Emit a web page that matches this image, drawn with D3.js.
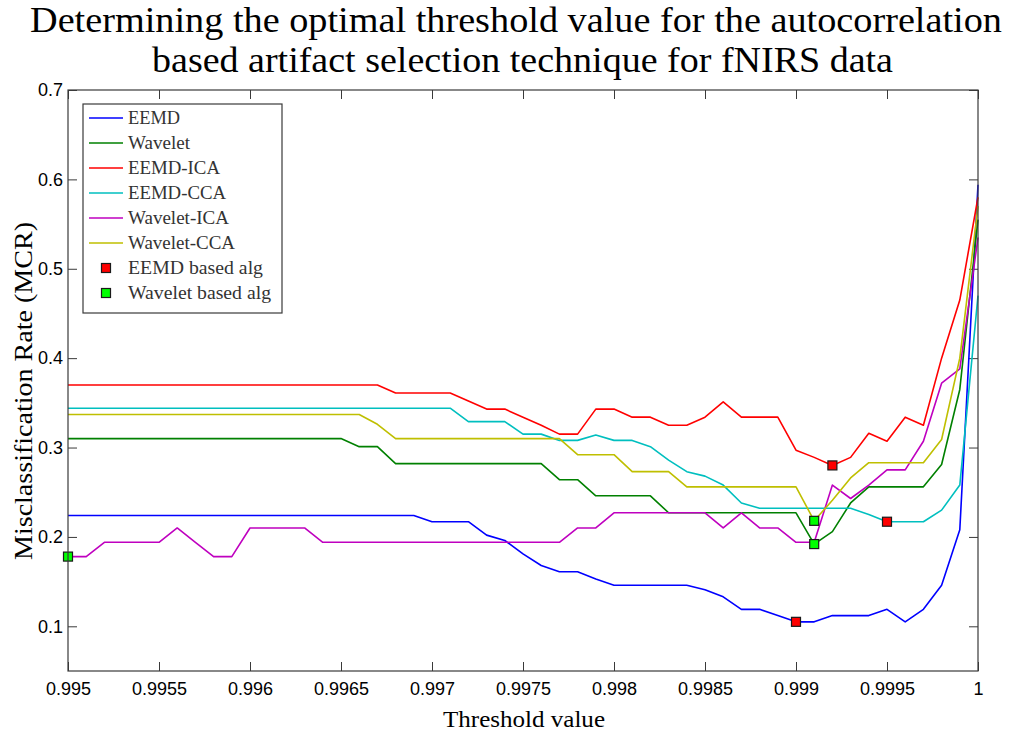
<!DOCTYPE html>
<html>
<head>
<meta charset="utf-8">
<script src="https://cdn.jsdelivr.net/npm/d3@7"></script>
<style>
  html, body { margin: 0; padding: 0; background: #fff; }
  svg { display: block; }
</style>
</head>
<body>
<svg id="chart" width="1010" height="736"></svg>
<script>
// Autocorrelation threshold values (x axis)
const thresholds = [
  0.9950, 0.9951, 0.9952, 0.9953, 0.9954, 0.9955, 0.9956, 0.9957, 0.9958, 0.9959,
  0.9960, 0.9961, 0.9962, 0.9963, 0.9964, 0.9965, 0.9966, 0.9967, 0.9968, 0.9969,
  0.9970, 0.9971, 0.9972, 0.9973, 0.9974, 0.9975, 0.9976, 0.9977, 0.9978, 0.9979,
  0.9980, 0.9981, 0.9982, 0.9983, 0.9984, 0.9985, 0.9986, 0.9987, 0.9988, 0.9989,
  0.9990, 0.9991, 0.9992, 0.9993, 0.9994, 0.9995, 0.9996, 0.9997, 0.9998, 0.9999,
  1.0000
];

// Misclassification rate per method
const eemd = [
  0.224, 0.224, 0.224, 0.224, 0.224, 0.224, 0.224, 0.224, 0.224, 0.224,
  0.224, 0.224, 0.224, 0.224, 0.224, 0.224, 0.224, 0.224, 0.224, 0.224,
  0.217, 0.217, 0.217, 0.202, 0.196, 0.181, 0.168, 0.161, 0.161, 0.153,
  0.146, 0.146, 0.146, 0.146, 0.146, 0.141, 0.133, 0.119, 0.119, 0.112,
  0.105, 0.105, 0.112, 0.112, 0.112, 0.119, 0.105, 0.119, 0.146, 0.208,
  0.594
];
const wavelet = [
  0.310, 0.310, 0.310, 0.310, 0.310, 0.310, 0.310, 0.310, 0.310, 0.310,
  0.310, 0.310, 0.310, 0.310, 0.310, 0.310, 0.301, 0.301, 0.282, 0.282,
  0.282, 0.282, 0.282, 0.282, 0.282, 0.282, 0.282, 0.264, 0.264, 0.246,
  0.246, 0.246, 0.246, 0.227, 0.227, 0.227, 0.227, 0.227, 0.227, 0.227,
  0.227, 0.192, 0.206, 0.238, 0.256, 0.256, 0.256, 0.256, 0.281, 0.365,
  0.555
];
const eemdIca = [
  0.370, 0.370, 0.370, 0.370, 0.370, 0.370, 0.370, 0.370, 0.370, 0.370,
  0.370, 0.370, 0.370, 0.370, 0.370, 0.370, 0.370, 0.370, 0.361, 0.361,
  0.361, 0.361, 0.352, 0.343, 0.343, 0.334, 0.325, 0.315, 0.315, 0.343,
  0.343, 0.334, 0.334, 0.325, 0.325, 0.334, 0.351, 0.334, 0.334, 0.334,
  0.297, 0.289, 0.280, 0.289, 0.316, 0.307, 0.334, 0.325, 0.400, 0.465,
  0.580
];
const eemdCca = [
  0.344, 0.344, 0.344, 0.344, 0.344, 0.344, 0.344, 0.344, 0.344, 0.344,
  0.344, 0.344, 0.344, 0.344, 0.344, 0.344, 0.344, 0.344, 0.344, 0.344,
  0.344, 0.344, 0.329, 0.329, 0.329, 0.315, 0.315, 0.308, 0.308, 0.314,
  0.308, 0.308, 0.301, 0.286, 0.273, 0.268, 0.258, 0.238, 0.232, 0.232,
  0.232, 0.232, 0.232, 0.232, 0.225, 0.217, 0.217, 0.217, 0.230, 0.258,
  0.470
];
const waveletIca = [
  0.178, 0.178, 0.194, 0.194, 0.194, 0.194, 0.210, 0.194, 0.178, 0.178,
  0.210, 0.210, 0.210, 0.210, 0.194, 0.194, 0.194, 0.194, 0.194, 0.194,
  0.194, 0.194, 0.194, 0.194, 0.194, 0.194, 0.194, 0.194, 0.210, 0.210,
  0.227, 0.227, 0.227, 0.227, 0.227, 0.227, 0.210, 0.227, 0.210, 0.210,
  0.194, 0.194, 0.258, 0.243, 0.258, 0.275, 0.275, 0.307, 0.372, 0.388,
  0.535
];
const waveletCca = [
  0.337, 0.337, 0.337, 0.337, 0.337, 0.337, 0.337, 0.337, 0.337, 0.337,
  0.337, 0.337, 0.337, 0.337, 0.337, 0.337, 0.337, 0.326, 0.310, 0.310,
  0.310, 0.310, 0.310, 0.310, 0.310, 0.310, 0.310, 0.310, 0.292, 0.292,
  0.292, 0.273, 0.273, 0.273, 0.256, 0.256, 0.256, 0.256, 0.256, 0.256,
  0.256, 0.218, 0.241, 0.266, 0.283, 0.283, 0.283, 0.283, 0.309, 0.400,
  0.570
];

// Series definitions: name, values, stroke colour
const seriesNames  = ["EEMD", "Wavelet", "EEMD-ICA", "EEMD-CCA", "Wavelet-ICA", "Wavelet-CCA"];
const seriesValues = [eemd, wavelet, eemdIca, eemdCca, waveletIca, waveletCca];
const seriesColors = ["#0000ff", "#008000", "#ff0000", "#00bfbf", "#bf00bf", "#bfbf00"];

// Optimal threshold for each method (minimum MCR)
const eemdBestX   = [0.9990, 0.9992, 0.9995];
const eemdBestY   = [0.105, 0.280, 0.217];
const waveBestX   = [0.9950, 0.9991, 0.9991];
const waveBestY   = [0.178, 0.192, 0.218];
const markerNames = ["EEMD based alg", "Wavelet based alg"];
const markerFills = ["#ff0000", "#00ff00"];

// Axis ticks
const xTickValues = [0.995, 0.9955, 0.996, 0.9965, 0.997, 0.9975, 0.998, 0.9985, 0.999, 0.9995, 1];
const xTickLabels = ["0.995", "0.9955", "0.996", "0.9965", "0.997", "0.9975", "0.998", "0.9985", "0.999", "0.9995", "1"];
const yTickValues = [0.1, 0.2, 0.3, 0.4, 0.5, 0.6, 0.7];
const yTickLabels = ["0.1", "0.2", "0.3", "0.4", "0.5", "0.6", "0.7"];

const titleLines = [
  "Determining the optimal threshold value for the autocorrelation",
  "based artifact selection technique for fNIRS data"
];
const xLabel = "Threshold value";
const yLabel = "Misclassification Rate (MCR)";

// ---- layout ----
const svg = d3.select("#chart");
const plot = { left: 68, right: 978, top: 90, bottom: 671 };
const serif = "'Liberation Serif', 'Times New Roman', serif";
const sans = "'Liberation Sans', Arial, Helvetica, sans-serif";
const axisColor = "#3a3a3a";

const x = d3.scaleLinear().domain([0.995, 1]).range([plot.left, plot.right]);
const y = d3.scaleLinear().domain([0.05, 0.7]).range([plot.bottom, plot.top]);

// Title (two centred lines, fitted to fixed widths)
const titleSpec = [
  { x0: 30, width: 972, baseline: 32 },
  { x0: 152, width: 741, baseline: 72 }
];
titleLines.forEach((line, i) => {
  svg.append("text")
    .attr("x", titleSpec[i].x0)
    .attr("y", titleSpec[i].baseline)
    .attr("font-family", serif)
    .attr("font-size", 35)
    .attr("fill", "#000")
    .attr("textLength", titleSpec[i].width)
    .attr("lengthAdjust", "spacingAndGlyphs")
    .text(line);
});

// Axes with inward ticks on all four sides
const tickLen = 9;
const fmtX = (d) => xTickLabels[xTickValues.indexOf(d)];
const fmtY = (d) => yTickLabels[yTickValues.indexOf(d)];

const gx = svg.append("g").attr("transform", `translate(0,${plot.bottom})`)
  .call(d3.axisBottom(x).tickValues(xTickValues).tickFormat(fmtX)
    .tickSizeInner(-tickLen).tickSizeOuter(0).tickPadding(11));
const gxTop = svg.append("g").attr("transform", `translate(0,${plot.top})`)
  .call(d3.axisTop(x).tickValues(xTickValues).tickFormat("")
    .tickSizeInner(-tickLen).tickSizeOuter(0));
const gy = svg.append("g").attr("transform", `translate(${plot.left},0)`)
  .call(d3.axisLeft(y).tickValues(yTickValues).tickFormat(fmtY)
    .tickSizeInner(-tickLen).tickSizeOuter(0).tickPadding(5));
const gyRight = svg.append("g").attr("transform", `translate(${plot.right},0)`)
  .call(d3.axisRight(y).tickValues(yTickValues).tickFormat("")
    .tickSizeInner(-tickLen).tickSizeOuter(0));

[gx, gxTop, gy, gyRight].forEach((g) => {
  g.select(".domain").remove();
  g.selectAll(".tick line").attr("stroke", axisColor).attr("stroke-width", 1);
  g.selectAll(".tick text")
    .attr("font-family", sans)
    .attr("font-size", 18)
    .attr("fill", "#000");
});

// Lines
const line = d3.line()
  .x((d, i) => x(thresholds[i]))
  .y((d) => y(d));

const linesG = svg.append("g");
seriesValues.forEach((vals, k) => {
  linesG.append("path")
    .datum(vals)
    .attr("d", line)
    .attr("fill", "none")
    .attr("stroke", seriesColors[k])
    .attr("stroke-width", 1.6)
    .attr("stroke-linejoin", "round");
});

// Optimal-threshold markers
const msize = 9;
function drawMarkers(xs, ys, fill) {
  svg.append("g").selectAll("rect")
    .data(xs.map((v, i) => [v, ys[i]]))
    .join("rect")
    .attr("x", (d) => x(d[0]) - msize / 2)
    .attr("y", (d) => y(d[1]) - msize / 2)
    .attr("width", msize)
    .attr("height", msize)
    .attr("fill", fill)
    .attr("stroke", "#1a1a1a")
    .attr("stroke-width", 1.2);
}
drawMarkers(eemdBestX, eemdBestY, markerFills[0]);
drawMarkers(waveBestX, waveBestY, markerFills[1]);

// Plot box
svg.append("rect")
  .attr("x", plot.left).attr("y", plot.top)
  .attr("width", plot.right - plot.left).attr("height", plot.bottom - plot.top)
  .attr("fill", "none").attr("stroke", axisColor).attr("stroke-width", 1.2);

// Axis labels
svg.append("text")
  .attr("x", 443)
  .attr("y", 727)
  .attr("font-family", serif)
  .attr("font-size", 24)
  .attr("fill", "#000")
  .attr("textLength", 162)
  .attr("lengthAdjust", "spacingAndGlyphs")
  .text(xLabel);

svg.append("text")
  .attr("transform", `translate(32,560) rotate(-90)`)
  .attr("font-family", serif)
  .attr("font-size", 25)
  .attr("fill", "#000")
  .attr("textLength", 338)
  .attr("lengthAdjust", "spacingAndGlyphs")
  .text(yLabel);

// Legend
const legend = { x: 83, y: 104, w: 199, h: 209, row: 25, first: 14 };
const lg = svg.append("g");
lg.append("rect")
  .attr("x", legend.x).attr("y", legend.y)
  .attr("width", legend.w).attr("height", legend.h)
  .attr("fill", "#fff").attr("stroke", axisColor).attr("stroke-width", 1.2);

const legendWidths = [52, 62, 92, 98, 101, 107, 135, 143];
const legendNames = seriesNames.concat(markerNames);
legendNames.forEach((name, i) => {
  const cy = legend.y + legend.first + i * legend.row;
  if (i < seriesNames.length) {
    lg.append("line")
      .attr("x1", 89).attr("x2", 123)
      .attr("y1", cy).attr("y2", cy)
      .attr("stroke", seriesColors[i]).attr("stroke-width", 1.6);
  } else {
    lg.append("rect")
      .attr("x", 106 - msize / 2).attr("y", cy - msize / 2)
      .attr("width", msize).attr("height", msize)
      .attr("fill", markerFills[i - seriesNames.length])
      .attr("stroke", "#1a1a1a").attr("stroke-width", 1.2);
  }
  lg.append("text")
    .attr("x", 128).attr("y", cy + 6)
    .attr("font-family", serif)
    .attr("font-size", 18)
    .attr("fill", "#333")
    .attr("textLength", legendWidths[i])
    .attr("lengthAdjust", "spacingAndGlyphs")
    .text(name);
});
</script>
</body>
</html>
